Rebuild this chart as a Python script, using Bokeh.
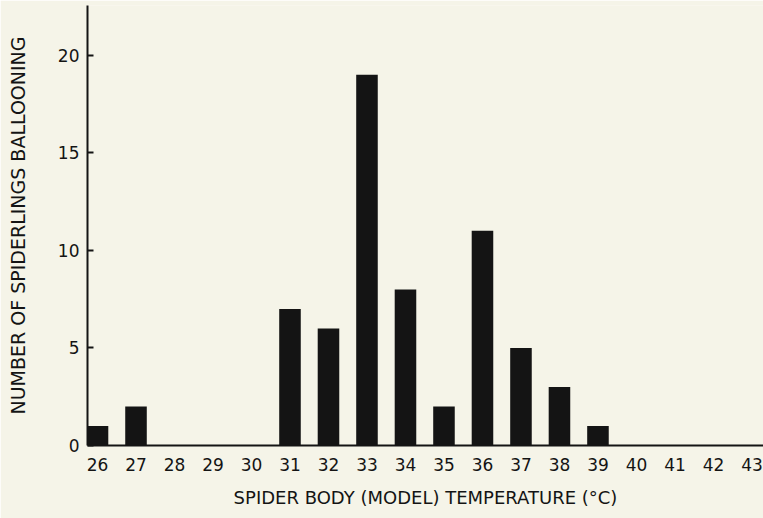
from bokeh.plotting import figure
from bokeh.models import Range1d, FixedTicker
from bokeh.embed import file_html
from bokeh.resources import INLINE

# Data
temperatures = list(range(26, 44))
counts = [1, 2, 0, 0, 0, 7, 6, 19, 8, 2, 11, 5, 3, 1, 0, 0, 0, 0]
y_ticks = [0, 5, 10, 15, 20]
x_title = "SPIDER BODY (MODEL) TEMPERATURE (°C)"
y_title = "NUMBER OF SPIDERLINGS BALLOONING"

FONT = "DejaVu Sans"
BG = "#F5F4E8"
INK = "#141414"

p = figure(width=763, height=518, output_backend="svg", toolbar_location=None,
           x_range=Range1d(25.74, 43.3), y_range=Range1d(0, 22.55),
           min_border_left=87, min_border_right=0, min_border_top=5, min_border_bottom=73)

p.background_fill_color = BG
p.border_fill_color = BG
p.outline_line_color = None
p.xgrid.visible = False
p.ygrid.visible = False

p.vbar(x=temperatures, top=counts, bottom=0, width=0.56, fill_color=INK, line_color=None)

# x axis
xa = p.xaxis[0]
xa.ticker = FixedTicker(ticks=temperatures)
xa.axis_line_color = INK
xa.axis_line_width = 2
xa.major_tick_line_color = None
xa.minor_tick_line_color = None
xa.major_label_standoff = 6
xa.major_label_text_font = FONT
xa.major_label_text_font_size = "17px"
xa.major_label_text_color = INK
xa.axis_label = x_title
xa.axis_label_text_font = FONT
xa.axis_label_text_font_size = "18px"
xa.axis_label_text_font_style = "normal"
xa.axis_label_text_color = INK
xa.axis_label_standoff = 13

# y axis
ya = p.yaxis[0]
ya.ticker = FixedTicker(ticks=y_ticks)
ya.axis_line_color = INK
ya.axis_line_width = 2
ya.major_tick_line_color = INK
ya.major_tick_line_width = 2
ya.major_tick_in = 6
ya.major_tick_out = 0
ya.minor_tick_line_color = None
ya.major_label_standoff = 8
ya.major_label_text_font = FONT
ya.major_label_text_font_size = "17px"
ya.major_label_text_color = INK
ya.axis_label = y_title
ya.axis_label_text_font = FONT
ya.axis_label_text_font_size = "19px"
ya.axis_label_text_font_style = "normal"
ya.axis_label_text_color = INK
ya.axis_label_standoff = 26

open("out.html", "w").write(file_html(p, INLINE))
